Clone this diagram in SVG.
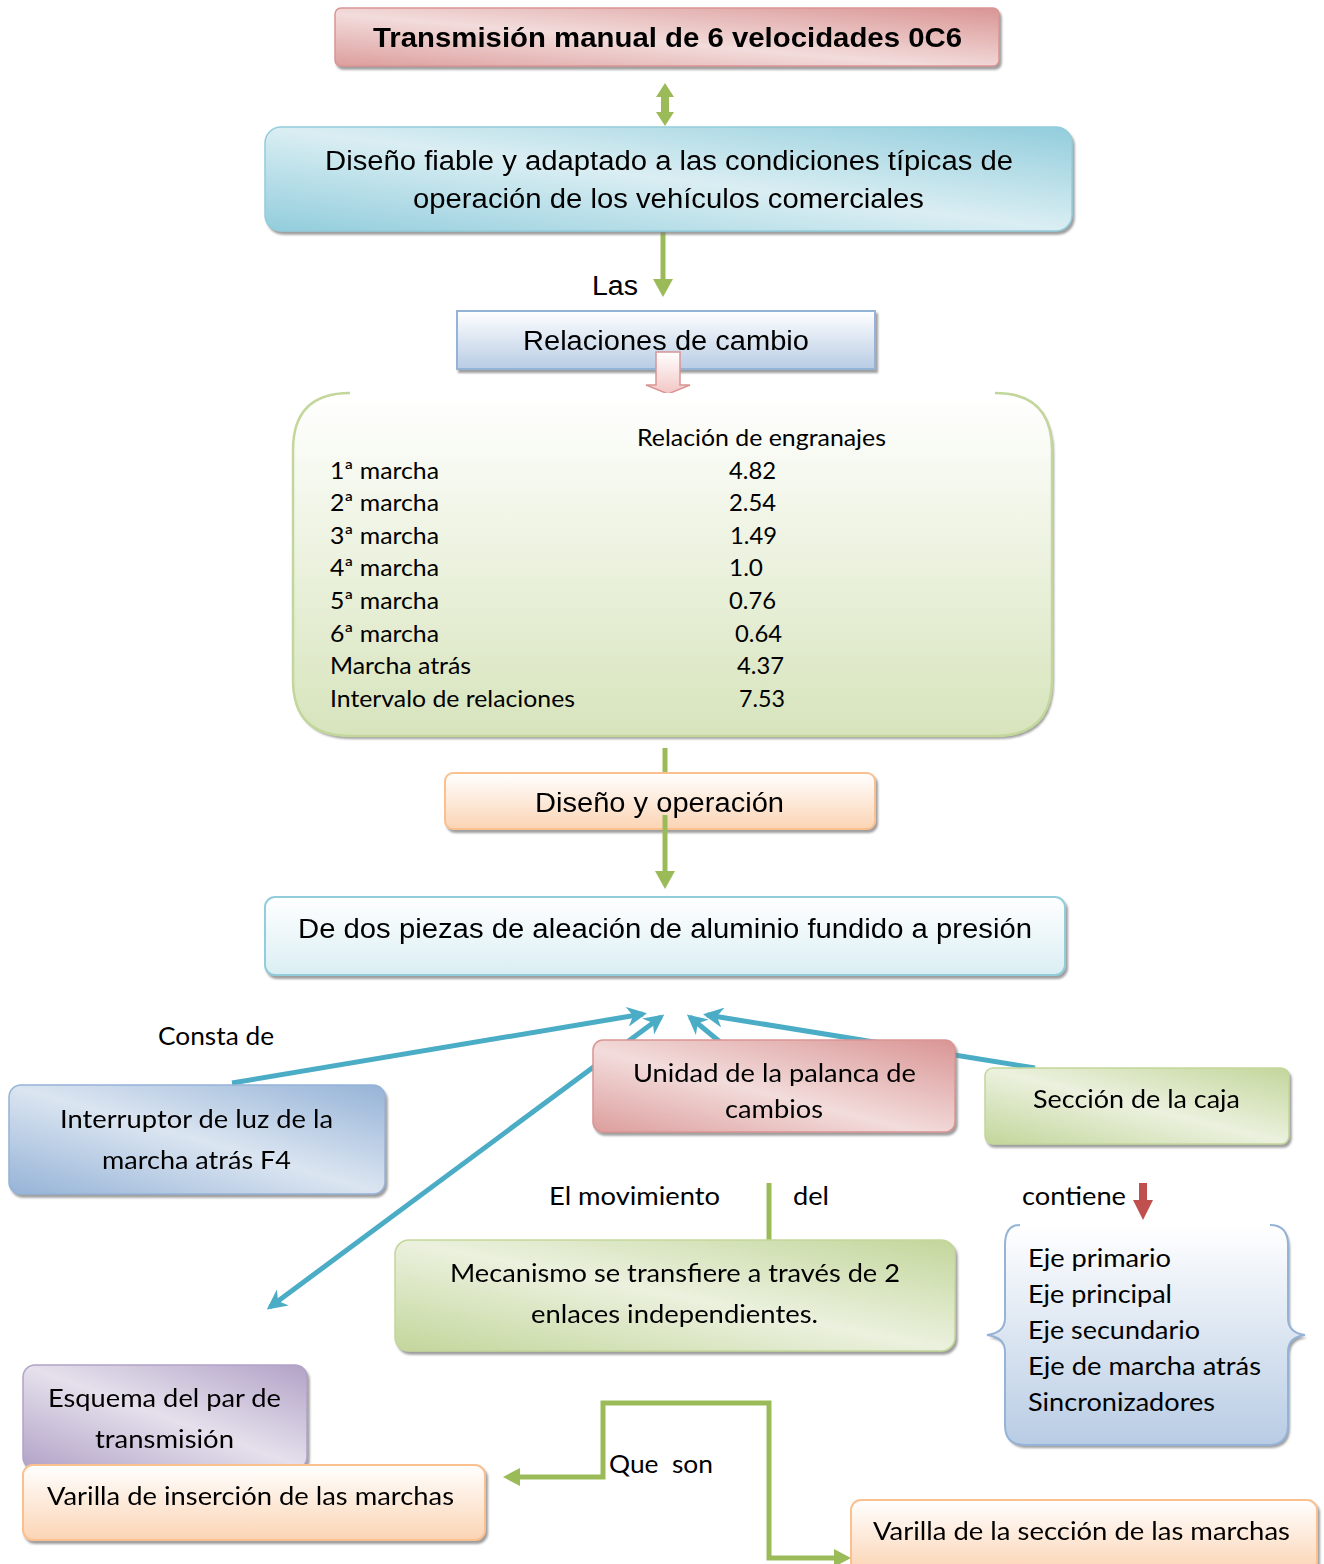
<svg xmlns="http://www.w3.org/2000/svg" width="1324" height="1564" viewBox="0 0 1324 1564">
  <defs>
    <style>
      text { lengthAdjust: spacingAndGlyphs; }
      .ar { font-family: "Liberation Sans", Arial, sans-serif; fill: #000; }
      .ca { font-family: Lato, "Open Sans", sans-serif; fill: #000; }
      .c { text-anchor: middle; }
      .blue-conn { stroke: #4bacc6; stroke-width: 5; fill: none; }
      .green-conn { stroke: #9bbb59; stroke-width: 5; fill: none; }
    </style>
    <filter id="shadow" x="-5%" y="-10%" width="112%" height="130%">
      <feDropShadow dx="2" dy="3" stdDeviation="0.8" flood-color="#7f7f7f" flood-opacity="0.75"/>
    </filter>
    <linearGradient id="gRed" x1="0" y1="1" x2="1" y2="0">
      <stop offset="0" stop-color="#dc9e9d"/>
      <stop offset="0.45" stop-color="#f2dcdb"/>
      <stop offset="1" stop-color="#d99594"/>
    </linearGradient>
    <linearGradient id="gCyan" x1="0" y1="1" x2="1" y2="0">
      <stop offset="0" stop-color="#92cddc"/>
      <stop offset="0.5" stop-color="#daeef3"/>
      <stop offset="1" stop-color="#92cddc"/>
    </linearGradient>
    <linearGradient id="gBlueV" x1="0" y1="0" x2="0" y2="1">
      <stop offset="0" stop-color="#ffffff"/>
      <stop offset="1" stop-color="#b8cce4"/>
    </linearGradient>
    <linearGradient id="gGreenV" x1="0" y1="0" x2="0" y2="1">
      <stop offset="0" stop-color="#ffffff"/>
      <stop offset="1" stop-color="#d7e4bc"/>
    </linearGradient>
    <linearGradient id="gOrangeV" x1="0" y1="0" x2="0" y2="1">
      <stop offset="0" stop-color="#ffffff"/>
      <stop offset="1" stop-color="#fbd4b4"/>
    </linearGradient>
    <linearGradient id="gCyanV" x1="0" y1="0" x2="0" y2="1">
      <stop offset="0" stop-color="#ffffff"/>
      <stop offset="1" stop-color="#daeef3"/>
    </linearGradient>
    <linearGradient id="gBlueD" x1="0" y1="1" x2="1" y2="0">
      <stop offset="0" stop-color="#95b3d7"/>
      <stop offset="0.5" stop-color="#dbe5f1"/>
      <stop offset="1" stop-color="#95b3d7"/>
    </linearGradient>
    <linearGradient id="gGreenD" x1="0" y1="1" x2="1" y2="0">
      <stop offset="0" stop-color="#c3d69b"/>
      <stop offset="0.5" stop-color="#ebf1de"/>
      <stop offset="1" stop-color="#c3d69b"/>
    </linearGradient>
    <linearGradient id="gPurpleD" x1="0" y1="1" x2="1" y2="0">
      <stop offset="0" stop-color="#b2a2c7"/>
      <stop offset="0.5" stop-color="#e5e0ec"/>
      <stop offset="1" stop-color="#b2a2c7"/>
    </linearGradient>
    <linearGradient id="gPinkArrow" x1="0" y1="0" x2="0" y2="1">
      <stop offset="0" stop-color="#ffffff"/>
      <stop offset="1" stop-color="#f2c5c4"/>
    </linearGradient>
    <marker id="ahBlue" viewBox="0 0 10 10" refX="8" refY="5" markerWidth="4" markerHeight="4" orient="auto-start-reverse" markerUnits="strokeWidth">
      <path d="M0,0 L10,5 L0,10 L3,5 Z" fill="#4bacc6"/>
    </marker>
  </defs>

  <rect width="1324" height="1564" fill="#ffffff"/>

  <!-- connectors -->
  <g id="connectors">
    <!-- title <-> reliable design -->
    <path d="M665,83 L674,97 L669,97 L669,112 L674,112 L665,126 L656,112 L661,112 L661,97 L656,97 Z" fill="#9bbb59"/>
    <!-- reliable design -> ratios -->
    <line class="green-conn" x1="663" y1="232" x2="663" y2="282"/>
    <path d="M653,279 L673,279 L663,297 Z" fill="#9bbb59"/>
    <!-- ratios table -> design and operation -->
    <line class="green-conn" x1="665" y1="748" x2="665" y2="774"/>
    <!-- blue arrows converging under the housing box -->
    <line class="blue-conn" x1="232" y1="1083" x2="643" y2="1014" marker-end="url(#ahBlue)"/>
    <line class="blue-conn" x1="270" y1="1307" x2="661" y2="1017" marker-start="url(#ahBlue)" marker-end="url(#ahBlue)"/>
    <line class="blue-conn" x1="720" y1="1042" x2="690" y2="1017" marker-end="url(#ahBlue)"/>
    <line class="blue-conn" x1="1035" y1="1068" x2="707" y2="1015" marker-end="url(#ahBlue)"/>
    <!-- movement stub -->
    <line class="green-conn" x1="769" y1="1183" x2="769" y2="1241"/>
    <!-- contains arrow -->
    <rect x="1139" y="1183" width="8" height="18" fill="#c0504d"/>
    <path d="M1133,1200 L1153,1200 L1143,1220 Z" fill="#c0504d"/>
    <!-- elbow connector to the two rods -->
    <path class="green-conn" d="M518,1477 L603,1477 L603,1403 L769,1403 L769,1558 L836,1558"/>
    <path d="M503,1477 L520,1468 L520,1486 Z" fill="#9bbb59"/>
    <path d="M851,1558 L834,1549 L834,1567 Z" fill="#9bbb59"/>
  </g>

  <g id="n-title" filter="url(#shadow)">
    <rect x="335" y="8" width="664" height="58" rx="6" fill="url(#gRed)" stroke="#d99594" stroke-width="1.5"/>
    <text class="ar" x="373" y="47" font-size="27" font-weight="bold" textLength="589" lengthAdjust="spacingAndGlyphs">Transmisión manual de 6 velocidades 0C6</text>
  </g>

  <g id="n-design" filter="url(#shadow)">
    <rect x="265" y="127" width="807" height="104" rx="16" fill="url(#gCyan)" stroke="#92cddc" stroke-width="1.5"/>
    <text class="ar" x="325" y="170" font-size="27" textLength="688" lengthAdjust="spacingAndGlyphs">Diseño fiable y adaptado a las condiciones típicas de</text>
    <text class="ar" x="413" y="208" font-size="27" textLength="511" lengthAdjust="spacingAndGlyphs">operación de los vehículos comerciales</text>
  </g>

  <text id="l-las" class="ar" x="592" y="295" font-size="27" textLength="46" lengthAdjust="spacingAndGlyphs">Las</text>

  <g id="n-ratios" filter="url(#shadow)">
    <rect x="457" y="311" width="418" height="58" fill="url(#gBlueV)" stroke="#95b3d7" stroke-width="2"/>
    <text class="ar" x="523" y="350" font-size="27" textLength="286" lengthAdjust="spacingAndGlyphs">Relaciones de cambio</text>
  </g>

  <!-- pink block arrow into the table -->
  <path id="pink-arrow" d="M656,352 L680,352 L680,385 L690,385 L668,394 L646,385 L656,385 Z" fill="url(#gPinkArrow)" stroke="#d99594" stroke-width="1.5"/>

  <g id="n-table">
    <path d="M350,393 L995,393 Q1052,393 1052,450 L1052,680 Q1052,736 995,736 L350,736 Q293,736 293,680 L293,450 Q293,393 350,393 Z" fill="url(#gGreenV)" filter="url(#shadow)"/>
    <path d="M350,393 Q293,393 293,450 L293,680 Q293,736 350,736 L995,736 Q1052,736 1052,680 L1052,450 Q1052,393 995,393" fill="none" stroke="#c3d69b" stroke-width="2.5"/>
    <g class="ca" font-size="23">
      <text x="637" y="446" textLength="249" lengthAdjust="spacingAndGlyphs">Relación de engranajes</text>
      <text x="330" y="479" textLength="109" lengthAdjust="spacingAndGlyphs">1ª marcha</text>
      <text x="729" y="479" textLength="47" lengthAdjust="spacingAndGlyphs">4.82</text>
      <text x="330" y="511" textLength="109" lengthAdjust="spacingAndGlyphs">2ª marcha</text>
      <text x="729" y="511" textLength="47" lengthAdjust="spacingAndGlyphs">2.54</text>
      <text x="330" y="544" textLength="109" lengthAdjust="spacingAndGlyphs">3ª marcha</text>
      <text x="730" y="544" textLength="47" lengthAdjust="spacingAndGlyphs">1.49</text>
      <text x="330" y="576" textLength="109" lengthAdjust="spacingAndGlyphs">4ª marcha</text>
      <text x="729" y="576" textLength="34" lengthAdjust="spacingAndGlyphs">1.0</text>
      <text x="330" y="609" textLength="109" lengthAdjust="spacingAndGlyphs">5ª marcha</text>
      <text x="729" y="609" textLength="47" lengthAdjust="spacingAndGlyphs">0.76</text>
      <text x="330" y="642" textLength="109" lengthAdjust="spacingAndGlyphs">6ª marcha</text>
      <text x="735" y="642" textLength="47" lengthAdjust="spacingAndGlyphs">0.64</text>
      <text x="330" y="674" textLength="141" lengthAdjust="spacingAndGlyphs">Marcha atrás</text>
      <text x="737" y="674" textLength="47" lengthAdjust="spacingAndGlyphs">4.37</text>
      <text x="330" y="707" textLength="245" lengthAdjust="spacingAndGlyphs">Intervalo de relaciones</text>
      <text x="739" y="707" textLength="46" lengthAdjust="spacingAndGlyphs">7.53</text>
    </g>
  </g>

  <g id="n-operation" filter="url(#shadow)">
    <rect x="445" y="773" width="430" height="56" rx="8" fill="url(#gOrangeV)" stroke="#fac090" stroke-width="2"/>
    <text class="ar" x="535" y="812" font-size="27" textLength="249" lengthAdjust="spacingAndGlyphs">Diseño y operación</text>
  </g>

  <!-- arrow from operation down to the housing -->
  <g id="c-operation">
    <line class="green-conn" x1="665" y1="815" x2="665" y2="874"/>
    <path d="M655,871 L675,871 L665,889 Z" fill="#9bbb59"/>
  </g>

  <g id="n-housing" filter="url(#shadow)">
    <rect x="265" y="897" width="800" height="78" rx="10" fill="url(#gCyanV)" stroke="#92cddc" stroke-width="2"/>
    <text class="ar" x="298" y="938" font-size="27" textLength="734" lengthAdjust="spacingAndGlyphs">De dos piezas de aleación de aluminio fundido a presión</text>
  </g>

  <text id="l-consta" class="ca" x="158" y="1045" font-size="25" textLength="116" lengthAdjust="spacingAndGlyphs">Consta de</text>

  <g id="n-switch" filter="url(#shadow)">
    <rect x="9" y="1085" width="376" height="109" rx="12" fill="url(#gBlueD)" stroke="#95b3d7" stroke-width="1.5"/>
    <text class="ca" x="60" y="1128" font-size="25" textLength="273" lengthAdjust="spacingAndGlyphs">Interruptor de luz de la</text>
    <text class="ca" x="102" y="1169" font-size="25" textLength="189" lengthAdjust="spacingAndGlyphs">marcha atrás F4</text>
  </g>

  <g id="n-lever" filter="url(#shadow)">
    <rect x="593" y="1040" width="362" height="92" rx="10" fill="url(#gRed)" stroke="#d99594" stroke-width="1.5"/>
    <text class="ca" x="633" y="1082" font-size="25" textLength="283" lengthAdjust="spacingAndGlyphs">Unidad de la palanca de</text>
    <text class="ca" x="725" y="1118" font-size="25" textLength="98" lengthAdjust="spacingAndGlyphs">cambios</text>
  </g>

  <g id="n-case" filter="url(#shadow)">
    <rect x="985" y="1068" width="304" height="76" rx="8" fill="url(#gGreenD)" stroke="#c3d69b" stroke-width="1.5"/>
    <text class="ca" x="1033" y="1108" font-size="25" textLength="207" lengthAdjust="spacingAndGlyphs">Sección de la caja</text>
  </g>

  <text id="l-movimiento" class="ca" x="549" y="1205" font-size="25" textLength="171" lengthAdjust="spacingAndGlyphs">El movimiento</text>
  <text id="l-del" class="ca" x="793" y="1205" font-size="25" textLength="36" lengthAdjust="spacingAndGlyphs">del</text>
  <text id="l-contiene" class="ca" x="1022" y="1205" font-size="25" textLength="104" lengthAdjust="spacingAndGlyphs">contiene</text>

  <g id="n-mechanism" filter="url(#shadow)">
    <rect x="395" y="1240" width="560" height="111" rx="14" fill="url(#gGreenD)" stroke="#c3d69b" stroke-width="1.5"/>
    <text class="ca" x="450" y="1282" font-size="25" textLength="450" lengthAdjust="spacingAndGlyphs">Mecanismo se transfiere a través de 2</text>
    <text class="ca" x="531" y="1323" font-size="25" textLength="287" lengthAdjust="spacingAndGlyphs">enlaces independientes.</text>
  </g>

  <g id="n-shafts">
    <path d="M1022,1225 L1270,1225 Q1288,1225 1288,1245 L1288,1318 Q1288,1333 1305,1335 Q1288,1337 1288,1352 L1288,1425 Q1288,1445 1268,1445 L1025,1445 Q1005,1445 1005,1425 L1005,1352 Q1005,1337 987,1335 Q1005,1333 1005,1318 L1005,1245 Q1005,1225 1022,1225 Z" fill="url(#gBlueV)" filter="url(#shadow)"/>
    <path d="M1020,1225 Q1005,1225 1005,1245 L1005,1318 Q1005,1333 987,1335 Q1005,1337 1005,1352 L1005,1425 Q1005,1445 1025,1445 L1268,1445 Q1288,1445 1288,1425 L1288,1352 Q1288,1337 1305,1335 Q1288,1333 1288,1318 L1288,1245 Q1288,1225 1270,1225" fill="none" stroke="#95b3d7" stroke-width="2"/>
    <g class="ca" font-size="25">
      <text x="1028" y="1267" textLength="143" lengthAdjust="spacingAndGlyphs">Eje primario</text>
      <text x="1028" y="1303" textLength="144" lengthAdjust="spacingAndGlyphs">Eje principal</text>
      <text x="1028" y="1339" textLength="172" lengthAdjust="spacingAndGlyphs">Eje secundario</text>
      <text x="1028" y="1375" textLength="233" lengthAdjust="spacingAndGlyphs">Eje de marcha atrás</text>
      <text x="1028" y="1411" textLength="187" lengthAdjust="spacingAndGlyphs">Sincronizadores</text>
    </g>
  </g>

  <g id="n-scheme" filter="url(#shadow)">
    <rect x="23" y="1365" width="284" height="104" rx="12" fill="url(#gPurpleD)" stroke="#b2a2c7" stroke-width="1.5"/>
    <text class="ca" x="48" y="1407" font-size="25" textLength="233" lengthAdjust="spacingAndGlyphs">Esquema del par de</text>
    <text class="ca" x="95" y="1448" font-size="25" textLength="139" lengthAdjust="spacingAndGlyphs">transmisión</text>
  </g>

  <g id="n-insertion-rod" filter="url(#shadow)">
    <rect x="23" y="1465" width="462" height="75" rx="10" fill="url(#gOrangeV)" stroke="#fac090" stroke-width="2"/>
    <text class="ca" x="47" y="1505" font-size="25" textLength="407" lengthAdjust="spacingAndGlyphs">Varilla de inserción de las marchas</text>
  </g>

  <text id="l-queson" class="ca" x="609" y="1473" font-size="25" xml:space="preserve" textLength="104" lengthAdjust="spacingAndGlyphs">Que  son</text>

  <g id="n-selector-rod" filter="url(#shadow)">
    <rect x="851" y="1500" width="466" height="72" rx="10" fill="url(#gOrangeV)" stroke="#fac090" stroke-width="2"/>
    <text class="ca" x="873" y="1540" font-size="25" textLength="417" lengthAdjust="spacingAndGlyphs">Varilla de la sección de las marchas</text>
  </g>
</svg>
